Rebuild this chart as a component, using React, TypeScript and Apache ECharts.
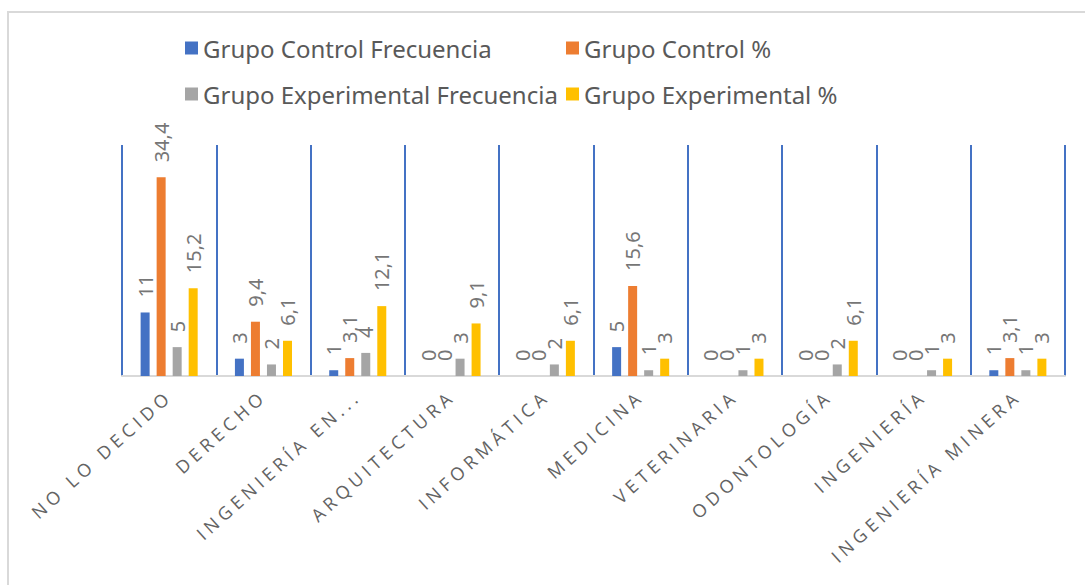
import React, { useEffect, useRef } from "react";
import * as echarts from "echarts";

const categories = [
  "NO LO DECIDO",
  "DERECHO",
  "INGENIERÍA EN...",
  "ARQUITECTURA",
  "INFORMÁTICA",
  "MEDICINA",
  "VETERINARIA",
  "ODONTOLOGÍA",
  "INGENIERÍA",
  "INGENIERÍA MINERA",
];
const controlFreq = [11, 3, 1, 0, 0, 5, 0, 0, 0, 1];
const controlPct = [34.4, 9.4, 3.1, 0, 0, 15.6, 0, 0, 0, 3.1];
const expFreq = [5, 2, 4, 3, 2, 1, 1, 2, 1, 1];
const expPct = [15.2, 6.1, 12.1, 9.1, 6.1, 3, 3, 6.1, 3, 3];

const seriesNames = [
  "Grupo Control Frecuencia",
  "Grupo Control %",
  "Grupo Experimental Frecuencia",
  "Grupo Experimental %",
];
const seriesData = [controlFreq, controlPct, expFreq, expPct];
const colors = ["#4472C4", "#ED7D31", "#A5A5A5", "#FFC000"];

export default function App() {
  const ref = useRef<HTMLDivElement>(null);
  useEffect(() => {
    if (!ref.current) return;
    const chart = echarts.init(ref.current, undefined, { renderer: "svg" });
    const legendPos = [
      { left: 180, top: 31 },
      { left: 561, top: 31 },
      { left: 180, top: 77 },
      { left: 561, top: 77 },
    ];
    chart.setOption({
      animation: false,
      color: colors,
      graphic: [
        {
          type: "rect",
          shape: { x: 8, y: 12, width: 1300, height: 800 },
          style: { fill: "none", stroke: "#D9D9D9", lineWidth: 2 },
          silent: true,
        },
      ],
      legend: seriesNames.map((n, i) => ({
        data: [n],
        left: legendPos[i].left,
        top: legendPos[i].top,
        itemWidth: 13,
        itemHeight: 13,
        icon: "rect",
        textStyle: { fontFamily: "Noto Sans", fontSize: 24, color: "#595959" },
        selectedMode: false,
      })),
      grid: { left: 122, right: 20, top: 145, bottom: 209, containLabel: false },
      xAxis: {
        type: "category",
        data: categories,
        axisTick: { show: false },
        axisLine: { lineStyle: { color: "#D9D9D9", width: 2 } },
        splitLine: { show: true, interval: 0, lineStyle: { color: "#4472C4", width: 2 } },
        axisLabel: {
          interval: 0,
          rotate: 42,
          margin: 17,
          fontFamily: "Open Sans",
          fontSize: 18,
          color: "#636363",
        },
      },
      yAxis: {
        type: "value",
        min: 0,
        max: 40,
        show: false,
        splitLine: { show: false },
      },
      series: seriesNames.map((n, i) => ({
        name: n,
        type: "bar",
        data: seriesData[i],
        barWidth: 9,
        barGap: "78%",
        itemStyle: { color: colors[i] },
        label: {
          show: true,
          position: "top",
          rotate: 90,
          align: "left",
          verticalAlign: "middle",
          distance: 15,
          fontFamily: "Noto Sans",
          fontSize: 20,
          color: "#767676",
          formatter: (p: any) => String(p.value).replace(".", ","),
        },
      })),
    });
    return () => chart.dispose();
  }, []);
  return (
    <>
      <style>{`text[style*="Open Sans"]{letter-spacing:4.6px;}`}</style>
      <div
        ref={ref}
        style={{ position: "absolute", left: 0, top: 0, width: 1085, height: 585, background: "#fff" }}
      />
    </>
  );
}
